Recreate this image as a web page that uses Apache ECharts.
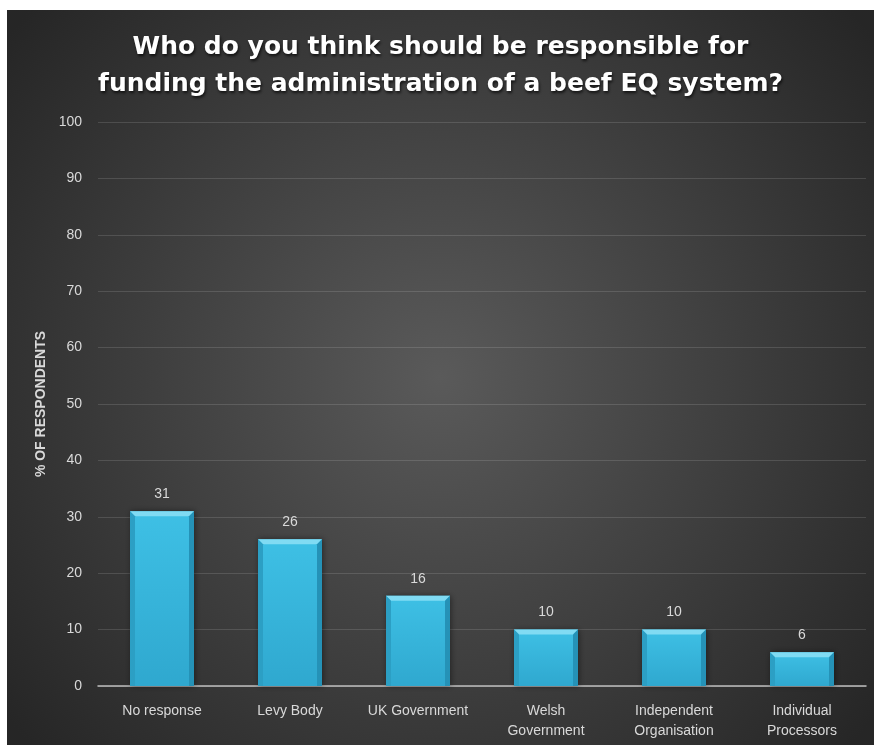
<!DOCTYPE html>
<html>
<head>
<meta charset="utf-8">
<script src="https://cdn.jsdelivr.net/npm/echarts@6/dist/echarts.min.js"></script>
<style>
  html, body { margin: 0; padding: 0; background: #ffffff; }
  #chart { position: absolute; left: 7px; top: 10px; width: 867px; height: 735px; }
</style>
</head>
<body>
<div id="chart"></div>
<script>
// Survey responses: who should fund the administration of a beef EQ system
const titleLines = ['Who do you think should be responsible for', 'funding the administration of a beef EQ system?'];
const categories = ['No response', 'Levy Body', 'UK Government', 'Welsh\nGovernment', 'Independent\nOrganisation', 'Individual\nProcessors'];
const percentValues = [31, 26, 16, 10, 10, 6];
const yAxisName = '% OF RESPONDENTS';
const yMin = 0, yMax = 100, yStep = 10;

const chart = echarts.init(document.getElementById('chart'));

// Beveled bar: main body with a light top facet and shaded side facets
function renderBevelBar(params, api) {
  const idx = api.value(0);
  const val = api.value(1);
  const top = api.coord([idx, val]);
  const base = api.coord([idx, 0]);
  const band = api.size([1, 0])[0];
  const w = band * 0.5;
  const x0 = top[0] - w / 2, x1 = top[0] + w / 2;
  const y0 = top[1], y1 = base[1];
  const b = Math.min(5, (y1 - y0) / 2);
  return {
    type: 'group',
    children: [
      {
        type: 'rect',
        shape: { x: x0, y: y0, width: w, height: y1 - y0 },
        style: {
          fill: new echarts.graphic.LinearGradient(0, 0, 0, 1, [
            { offset: 0, color: '#3ec0e5' },
            { offset: 1, color: '#2fa8cf' }
          ]),
          shadowBlur: 6, shadowColor: 'rgba(0,0,0,0.45)', shadowOffsetX: 1, shadowOffsetY: 0
        }
      },
      {
        type: 'polygon',
        shape: { points: [[x0, y0], [x1, y0], [x1 - b, y0 + b], [x0 + b, y0 + b]] },
        style: { fill: '#80dbf3' }
      },
      {
        type: 'polygon',
        shape: { points: [[x0, y0], [x0 + b, y0 + b], [x0 + b, y1], [x0, y1]] },
        style: { fill: '#2c9fc4' }
      },
      {
        type: 'polygon',
        shape: { points: [[x1, y0], [x1 - b, y0 + b], [x1 - b, y1], [x1, y1]] },
        style: { fill: '#2592b7' }
      },
      {
        type: 'text',
        style: {
          text: String(val),
          x: top[0], y: y0 - 10,
          align: 'center', verticalAlign: 'bottom',
          fill: '#d9d9d9', fontSize: 14, fontFamily: 'Liberation Sans, Arial, sans-serif'
        }
      }
    ]
  };
}

chart.setOption({
  backgroundColor: new echarts.graphic.RadialGradient(0.5, 0.5, 0.75, [
    { offset: 0, color: '#5a5a5a' },
    { offset: 1, color: '#262626' }
  ]),
  title: {
    text: titleLines.join('\n'),
    left: 'center',
    top: 14,
    textStyle: {
      color: '#ffffff',
      fontSize: 25,
      fontWeight: 'bold',
      fontFamily: 'DejaVu Sans, sans-serif',
      lineHeight: 37,
      textShadowColor: 'rgba(0,0,0,0.7)',
      textShadowBlur: 3,
      textShadowOffsetX: 1,
      textShadowOffsetY: 2
    }
  },
  grid: { left: 91, right: 8, top: 112, bottom: 59, containLabel: false },
  xAxis: {
    type: 'category',
    data: categories,
    axisTick: { show: false },
    axisLine: { lineStyle: { color: '#bfbfbf', width: 1.5 } },
    axisLabel: {
      color: '#d9d9d9', fontSize: 14, margin: 15, lineHeight: 20,
      fontFamily: 'Liberation Sans, Arial, sans-serif', interval: 0
    }
  },
  yAxis: {
    type: 'value',
    min: yMin, max: yMax, interval: yStep,
    name: yAxisName,
    nameLocation: 'middle',
    nameGap: 47,
    nameTextStyle: {
      color: '#d9d9d9', fontSize: 14, fontWeight: 'bold',
      fontFamily: 'Liberation Sans, Arial, sans-serif'
    },
    axisLine: { show: false },
    axisTick: { show: false },
    axisLabel: {
      color: '#d9d9d9', fontSize: 14, margin: 16,
      fontFamily: 'Liberation Sans, Arial, sans-serif'
    },
    splitLine: { lineStyle: { color: 'rgba(255,255,255,0.13)', width: 1 } }
  },
  series: [{
    type: 'custom',
    renderItem: renderBevelBar,
    encode: { x: 0, y: 1 },
    data: percentValues.map((v, i) => [i, v])
  }]
});
</script>
</body>
</html>
